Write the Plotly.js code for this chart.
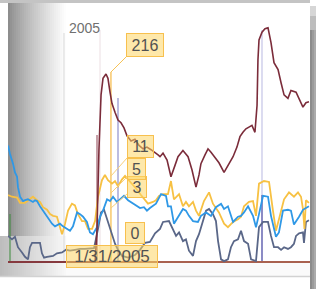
<!DOCTYPE html>
<html><head><meta charset="utf-8">
<script src="https://cdn.plot.ly/plotly-3.0.1.min.js"></script>
<style>html,body{margin:0;padding:0;background:#fff;overflow:hidden}#chart{width:316px;height:289px;}</style>
</head><body><div id="chart"></div>
<script>
// x values: days since 2005-01-01
const slateDays = [-37.3,-34.7,-32.7,-30.7,-28,-26,-24,-22.7,-21.3,-16,-14.7,-13.3,-11.3,-7.3,-4.7,-1.3,1.3,4,7.3,10.7,14,17.3,20,22.7,24.7,26.7,28.7,31.3,34,36,38.7,42.7,47.3,50.7,54,57.3,60.7,64,66,70,72.7,74.7,76.7,79.3,81.3,83.3,86,88,90,92.7,94.7,96.7,99.3,101.3,102.7,104.7,106.7,109.3,111.3,113.3,116,118,120,122.7,124.7,128,130,132.7,136,138,140,142.7,144.7,146.7,149.3,151.3,153.3,154.7,156.7,159.3,160,161.3,163.3];
const slateVals = [30,26,29,17,11,6,3,17,22,22,10,5,6,7,10,11,14,13,14,15,15,16,16,38,57,60,49,34,21,14,7,5,8,14,22,23,33,38,46,47,36,30,34,24,26,13,7,24,32,47,59,61,55,47,24,3,1,3,17,24,26,36,24,21,3,1,40,46,46,30,17,17,14,17,15,17,21,30,33,34,22,46,48];

const blueDays = [-37.3,-36,-34,-32.7,-31.3,-30.7,-29.3,-27.3,-26,-24,-22.7,-20.7,-19.3,-18,-16,-14,-10.7,-8,-6,-2.7,-0.7,2,4,6,8.7,10.7,12.7,15.3,17.3,19.3,22,24,26,28.7,30.7,32.7,35.3,37.3,40,42.7,45.3,48,50.7,53.3,55.3,57.3,59.3,61.3,64.7,68,69.3,71.3,73.3,76.7,79.3,81.3,83.3,86,89.3,91.3,94.7,98,101.3,104.7,106.7,109.3,112.7,116,118,120,122.7,126,128,130,132.7,136,138,141.3,143.3,146,149.3,151.3,153.3,156.7,159.3,161.3,163.3];
const blueVals = [134,124,113,103,98,86,75,70,71,72,71,69,71,70,64,59,52,44,41,44,41,38,36,41,57,55,52,46,34,32,40,52,59,72,70,75,69,72,76,71,68,65,62,63,59,62,64,67,78,76,64,64,44,53,61,59,53,47,46,53,57,53,63,67,61,64,46,52,53,57,64,53,40,55,76,75,53,29,34,59,60,59,43,52,60,62,64];

const yellowDays = [-37.3,-34.7,-31.3,-29.3,-26,-23.3,-20.7,-18,-16,-14,-11.3,-9.3,-7.3,-4.7,-2.7,-1.3,0.7,2.7,5.3,7.3,9.3,12,14,16,18.7,20.7,22.7,25.3,27.3,29.3,32,34,36,38.7,40.7,43.3,46,48.7,51.3,54,56,59.3,61.3,63.3,66,69.3,71.3,73.3,76.7,79.3,81.3,83.3,86,88,90,93.3,96.7,99.3,103.3,106.7,109.3,112.7,116,118,120,123.3,126,128,130,133.3,136.7,139.3,141.3,143.3,146.7,150,153.3,156,158,159.3,160.3,161.3,163.3];
const yellowVals = [77,75,74,68,68,72,75,71,69,63,60,55,53,52,40,32,44,59,67,65,55,47,47,38,38,47,75,94,100,94,90,93,87,95,99,94,88,83,77,71,67,69,71,76,78,78,93,72,78,64,69,64,69,59,53,70,80,67,57,44,40,46,49,52,64,69,70,53,90,93,92,59,36,49,72,80,75,80,75,61,38,71,68];

const maroonDays = [-37.3,20.7,22,23.3,24.7,26,28,29.3,30.7,32,34,36,38,40,42,44.7,47.3,50,52.7,55.3,58,60.7,62.7,64,66,68.7,71.3,74,76,79.3,82.7,85.3,88,90,91.3,94,96,98,100,103.3,106.7,109.3,112.7,115.3,117.3,119.3,121.3,123.3,125.3,127.3,128.7,129.3,130,132,134,136,138,140,142.7,144.7,146.7,149.3,151.3,154.7,157.3,159.3,161.3,163.3];
const maroonVals = [0,0,37,129,192,211,216,211,195,182,172,163,160,154,145,139,141,134,130,132,129,126,123,121,125,117,98,111,121,128,121,106,86,100,113,123,130,126,121,114,103,111,121,132,144,149,153,155,157,149,180,232,255,264,268,269,252,229,221,206,192,188,197,195,186,178,183,184];

// event marker days and labels shown for the hovered date
const eventDays = {green: -36, grid2005: 0, pink: 24, maroonEv: 22, pointer: 31.3, lav1: 36, lav2: 132};
const hoverDate = '1/31/2005';
const hoverLabels = ['216', '11', '5', '3', '0'];
const yearLabel = '2005';

const toDate = d => { const s = new Date(Date.UTC(2005,0,1) + d*86400000).toISOString(); return s.slice(0,10)+' '+s.slice(11,19); };

const P = x => (x - 8) / 302;           // pixel -> paper x
const Q = y => (270 - y) / 267;         // pixel -> paper y
function rect(x0,y0,x1,y1,color,layer){return {type:'rect',xref:'paper',yref:'paper',x0:P(x0),x1:P(x1),y0:Q(y1),y1:Q(y0),fillcolor:color,line:{width:0},layer:layer||'below'};}
function vline(d,y0,y1,color,w){return {type:'line',xref:'x',yref:'paper',x0:toDate(d),x1:toDate(d),y0:Q(y1),y1:Q(y0),line:{color:color,width:w||1},layer:'below'};}
function seg(x0,y0,x1,y1,color,w){return {type:'line',xref:'paper',yref:'paper',x0:P(x0),x1:P(x1),y0:Q(y0),y1:Q(y1),line:{color:color,width:w||1},layer:'above'};}
const g = v => { v=Math.round(v); return 'rgb('+v+','+v+','+v+')'; };

const shapes = [];
// left shadow gradient
for (let i=0;i<30;i++){ const x0=8+i*2, t=(i+0.5)/29; shapes.push(rect(x0,3,x0+2.2,236, g(136+119*Math.min(1,Math.pow(t,0.8))))); }
// bottom-left shadow
for (let i=0;i<33;i++){ const x0=i*2, t=(i+0.5)/33; shapes.push(rect(x0,236,x0+2.2,276, g(188+60*Math.min(1,t)))); }
// under-baseline band and bottom line
shapes.push(rect(66,263,310,276,'rgb(250,250,250)'));
shapes.push(seg(0,276.5,310,276.5,'#d2d2d2',1.5));
// event lines
shapes.push(vline(eventDays.grid2005,33,262,'#d9d9d9',1));
shapes.push(vline(eventDays.pink,30,262,'#ecdfe3',1));
shapes.push(vline(eventDays.maroonEv,135,262,'#8e4050',1));
shapes.push(vline(eventDays.green,214,262,'#3a8a3a',1));
shapes.push(vline(eventDays.lav1,98,262,'#8f8fcc',1.2));
shapes.push(vline(eventDays.lav2,30,262,'#c4c4e6',1.2));
shapes.push(vline(eventDays.lav2,195,262,'#5656a8',1.2));
shapes.push(vline(eventDays.pointer,72,262,'#f6b945',1.2));
// connectors
shapes.push(seg(111,72,126,57,'#f6c255',1));
shapes.push(seg(111,176,127,158,'#f8cf7a',1));
shapes.push(seg(111,193,127,177,'#f8cf7a',1));
shapes.push(seg(111,208,127,194,'#f8cf7a',1));
// frame: top bar and right shadow band
shapes.push(rect(0,0,310,3,'#c4c4c4','above'));
shapes.push(rect(310,6,312,289,'#8c8c8c','above'));
shapes.push(rect(312,6,314,289,'#9b9b9b','above'));
shapes.push(rect(314,6,316,289,'#ababab','above'));
shapes.push(rect(310,6,316,16,'#d6d6d6','above'));
shapes.push(rect(310,16,316,30,'#bdbdbd','above'));

const lbl = (text,cx,cy,w,h,size) => ({text:text,xref:'paper',yref:'paper',x:P(cx),y:Q(cy),xanchor:'center',yanchor:'middle',showarrow:false,
  width:w-2,height:h-2,borderpad:0,borderwidth:1,bordercolor:'#f7c04e',bgcolor:'rgba(254,214,100,0.55)',
  font:{family:'Liberation Sans, Arial, sans-serif',size:size||16,color:'#525252'}});

const annotations = [
  {text:yearLabel,xref:'paper',yref:'paper',x:P(84),y:Q(28),xanchor:'center',yanchor:'middle',showarrow:false,font:{family:'Liberation Sans, Arial, sans-serif',size:14,color:'#707070'}},
  lbl(hoverLabels[0],145,45,38,24),
  lbl(hoverLabels[1],140.5,146.5,27,23),
  lbl(hoverLabels[3],137,187,20,22),
  lbl(hoverLabels[2],136.5,169,19,22),
  lbl(hoverLabels[4],135,233,20,22),
  lbl(hoverDate,112,256.5,92,23,17)
];

const tr = (days, vals, color, w) => ({x:days.map(toDate), y:vals, type:'scatter', mode:'lines', line:{color:color,width:w}, hoverinfo:'skip'});
const data = [
  tr(slateDays, slateVals, '#5a6788', 1.8),
  tr(yellowDays, yellowVals, '#f7c143', 1.8),
  tr(blueDays, blueVals, '#2f98e6', 1.8),
  tr(maroonDays, maroonVals, '#7b2c3a', 1.6)
];

const layout = {
  width:316, height:289,
  margin:{l:8, r:6, t:3, b:19},
  paper_bgcolor:'#ffffff', plot_bgcolor:'rgba(0,0,0,0)',
  showlegend:false,
  xaxis:{type:'date', range:[toDate(-37.333), toDate(164)], showgrid:false, showticklabels:false, zeroline:false, showline:false, ticks:''},
  yaxis:{range:[-9.19, 297.56], showgrid:false, showticklabels:false, zeroline:true, zerolinecolor:'#a9614f', zerolinewidth:1.3, showline:false, ticks:''},
  shapes:shapes, annotations:annotations
};
Plotly.newPlot('chart', data, layout, {displayModeBar:false, staticPlot:true});
</script>
</body></html>
